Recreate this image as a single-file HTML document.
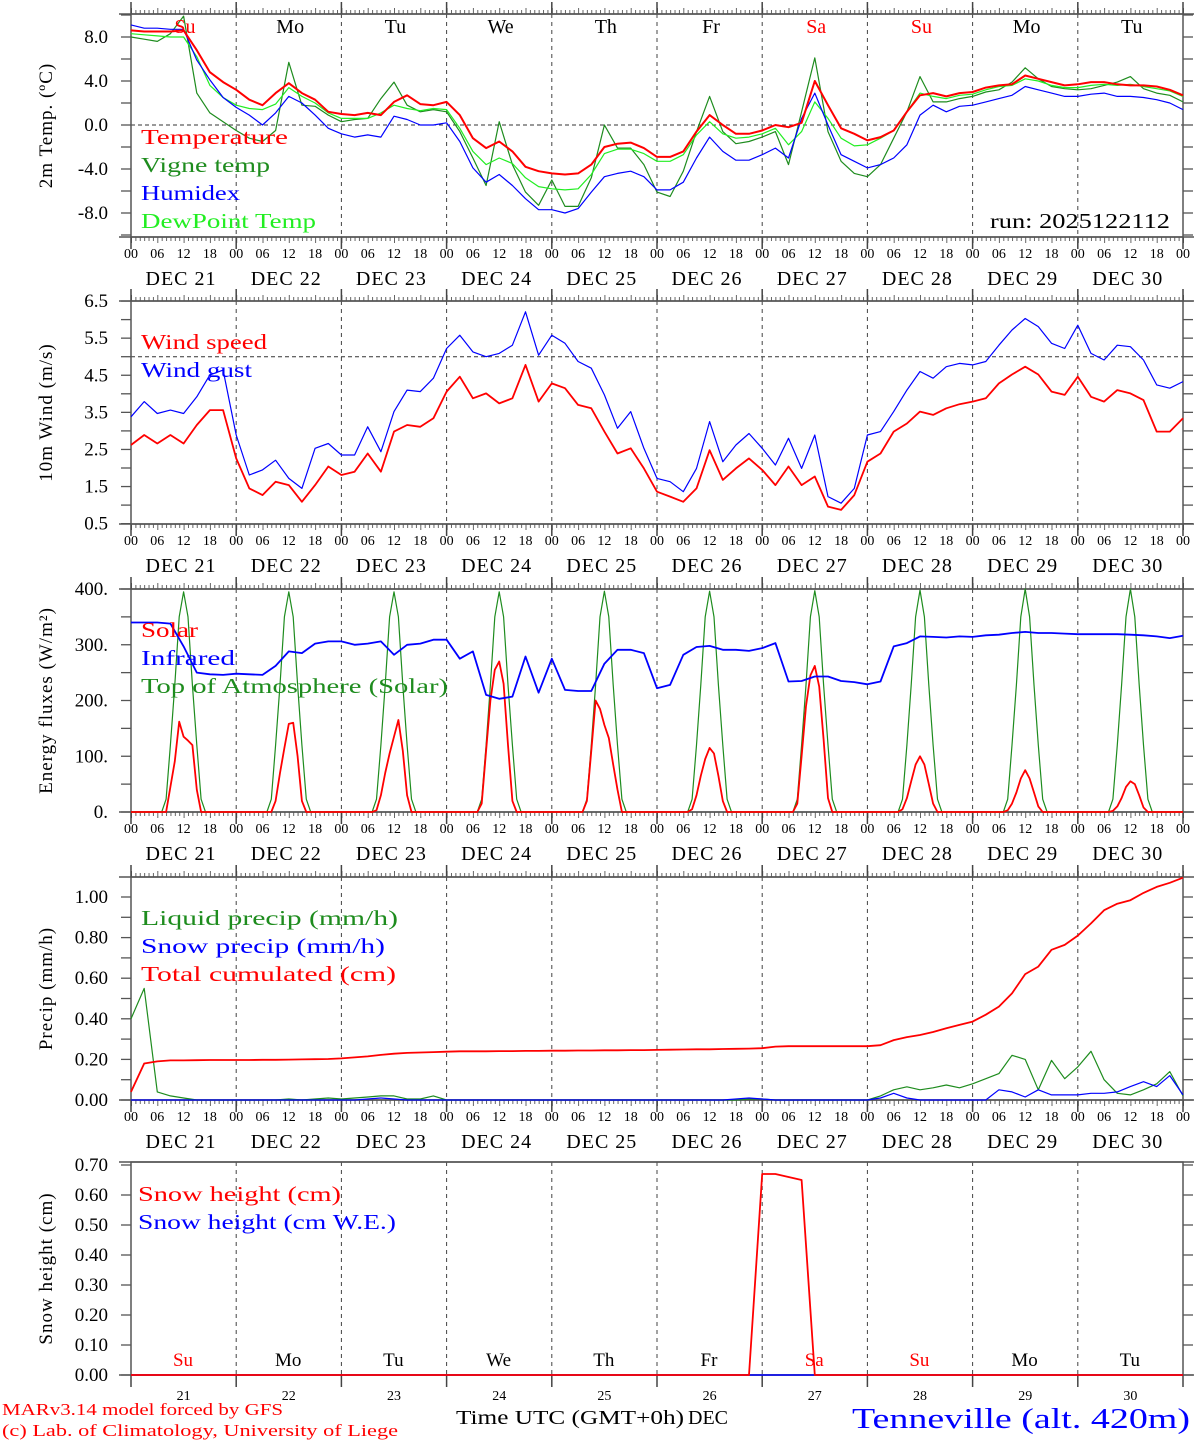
<!DOCTYPE html>
<html><head><meta charset="utf-8"><style>
html,body{margin:0;padding:0;background:#fff;}
svg{display:block;font-family:"Liberation Serif","DejaVu Serif",serif;}
</style></head><body>
<svg id="chart" width="1194" height="1440" viewBox="0 0 1194 1440" xmlns="http://www.w3.org/2000/svg">
<rect x="0" y="0" width="1194" height="1440" fill="#fff"/>
<g id="grid"></g><g id="series"></g><g id="labels"></g>
</svg>
<script>
// ---- data (3-hourly from Dec 21 00 UTC to Dec 31 00 UTC) ----
const dayNums=["21","22","23","24","25","26","27","28","29","30"];
const weekdays=["Su","Mo","Tu","We","Th","Fr","Sa","Su","Mo","Tu"];
const weekendFlags=[1,0,0,0,0,0,1,1,0,0];
const hourTicks=["00","06","12","18"];
const tempTicks=[8,4,0,-4,-8];
const windTicks=[6.5,5.5,4.5,3.5,2.5,1.5,0.5];
const fluxTicks=[400,300,200,100,0];
const precipTicks=[1.0,0.8,0.6,0.4,0.2,0.0];
const snowTicks=[0.7,0.6,0.5,0.4,0.3,0.2,0.1,0.0];

const temperature=[8.6,8.5,8.5,8.5,8.6,6.8,4.8,3.9, 3.2,2.3,1.8,2.9,3.8,2.9,2.3,1.2, 1.0,0.9,1.1,0.9,2.1,2.7,1.9,1.8, 2.1,0.9,-1.2,-2.1,-1.5,-2.4,-3.8,-4.2, -4.4,-4.5,-4.4,-3.6,-2.0,-1.7,-1.6,-2.1, -2.9,-2.9,-2.4,-0.6,0.9,0,-0.8,-0.8, -0.5,0,-0.2,0.2,4.0,1.8,-0.3,-0.8, -1.4,-1.1,-0.5,1.2,2.7,2.9,2.6,2.9, 3.0,3.4,3.6,3.7,4.5,4.2,3.9,3.6, 3.7,3.9,3.9,3.7,3.6,3.6,3.5,3.2, 2.7];
const vigneTemp=[8.0,7.8,7.6,8.3,9.9,2.9,1.1,0.3, -0.5,-1.2,-1.5,-0.5,5.7,1.8,1.7,0.9, 0.3,0.5,0.6,2.4,3.9,1.8,1.2,1.4, 1.2,-0.6,-3.0,-5.5,0.3,-3.6,-6.1,-7.3, -5.0,-7.4,-7.4,-4.8,0,-2.1,-2.1,-3.6, -6.1,-6.5,-4.2,-0.6,2.6,-0.6,-1.7,-1.5, -1.1,-0.6,-3.6,1.2,6.1,-0.6,-3.3,-4.4, -4.7,-3.6,-1.2,1.2,4.4,2.1,2.1,2.4, 2.6,3.0,3.2,3.9,5.2,4.2,3.5,3.3, 3.2,3.3,3.6,3.9,4.4,3.3,2.9,2.7, 2.1];
const humidex=[9.1,8.8,8.8,8.7,8.7,5.9,4.1,2.5, 1.6,0.9,0,1.1,2.6,2.0,0.9,-0.3, -0.8,-1.1,-0.9,-1.1,0.8,0.5,0,0, 0.2,-1.5,-3.9,-5.2,-4.5,-5.5,-6.7,-7.7, -7.7,-8.0,-7.6,-6.1,-4.7,-4.4,-4.2,-4.7, -5.9,-5.9,-5.2,-3.0,-1.1,-2.4,-3.2,-3.2, -2.7,-2.1,-3.0,0.6,2.9,0,-2.7,-3.3, -3.9,-3.6,-3.0,-1.8,0.9,1.8,1.2,1.7, 1.8,2.1,2.4,2.7,3.5,3.2,2.9,2.6, 2.6,2.8,2.9,2.6,2.6,2.5,2.3,2.0, 1.4];
const dewPoint=[8.3,8.2,8.1,8.0,8.0,6.2,3.6,2.5, 1.8,1.5,1.4,1.9,3.4,2.6,2.0,1.1, 0.6,0.6,0.6,1.1,1.8,1.5,1.3,1.5, 1.4,-0.3,-2.4,-3.6,-3.0,-3.5,-4.8,-5.6, -5.8,-5.9,-5.8,-4.5,-2.6,-2.2,-2.2,-2.6, -3.3,-3.3,-2.7,-0.9,0.3,-0.8,-1.2,-1.1, -0.8,-0.3,-1.8,-0.6,2.1,0.6,-1.2,-1.9, -1.8,-1.2,-0.5,1.2,2.9,2.6,2.4,2.7, 2.8,3.2,3.5,3.6,4.2,4.0,3.6,3.4, 3.4,3.6,3.7,3.6,3.7,3.5,3.3,3.1, 2.6];

const windSpeed=[2.62,2.89,2.66,2.89,2.66,3.16,3.56,3.56, 2.26,1.45,1.27,1.63,1.54,1.09,1.54,2.04, 1.81,1.9,2.39,1.9,2.98,3.16,3.11,3.34, 4.06,4.46,3.88,4.01,3.74,3.88,4.78,3.79, 4.28,4.15,3.7,3.61,2.98,2.39,2.53,1.99, 1.36,1.23,1.09,1.45,2.48,1.68,1.99,2.26, 1.95,1.54,2.04,1.54,1.77,0.96,0.87,1.27, 2.17,2.39,2.98,3.2,3.52,3.43,3.61,3.72, 3.79,3.88,4.28,4.52,4.73,4.52,4.06,3.97, 4.46,3.92,3.79,4.1,4.01,3.83,2.98,2.98, 3.34];
const windGust=[3.38,3.79,3.47,3.56,3.47,3.92,4.51,4.64, 2.89,1.81,1.95,2.21,1.72,1.45,2.53,2.66, 2.35,2.35,3.11,2.44,3.52,4.1,4.06,4.42, 5.22,5.58,5.13,5.0,5.09,5.31,6.21,5.04, 5.58,5.36,4.87,4.69,3.97,3.07,3.52,2.53, 1.72,1.63,1.36,1.99,3.25,2.17,2.62,2.93, 2.53,2.08,2.8,1.99,2.89,1.23,1.05,1.45, 2.89,2.98,3.52,4.1,4.6,4.42,4.73,4.82, 4.78,4.87,5.31,5.72,6.03,5.81,5.36,5.22, 5.85,5.09,4.91,5.31,5.27,4.91,4.24,4.15, 4.33];

const infrared=[340,340,340,338,297,250,247,246, 248,247,246,262,288,285,302,306, 306,300,302,306,282,300,302,309, 309,275,288,210,203,207,279,214, 275,219,217,217,266,291,291,285, 222,228,282,296,298,291,291,289, 294,303,234,235,243,243,235,233, 229,234,297,303,315,314,313,315, 314,317,318,321,323,321,321,320, 319,319,319,319,318,317,315,312, 316];
// hourly daylight rows, hours 07..17 for each day
const solarHours=[7,8,9,10,11,12,13,14,15,16,17];
const solarDaily=[
 [0,0,45,91,162,135,128,120,40,0,0],
 [0,0,20,70,115,158,160,100,20,0,0],
 [0,3,30,70,105,135,165,110,30,0,0],
 [0,15,110,200,255,270,230,120,20,0,0],
 [0,20,110,200,185,156,133,85,40,0,0],
 [0,5,30,65,95,115,105,65,20,0,0],
 [0,15,100,190,245,262,225,130,25,0,0],
 [0,5,25,55,85,100,85,50,15,0,0],
 [0,3,15,35,60,75,60,35,10,0,0],
 [0,2,10,25,45,55,50,30,8,0,0]];
const toaDaily=[
 [0,23,120,228,350,395,350,228,120,23,0],
 [0,23,120,228,350,395,350,228,120,23,0],
 [0,23,120,228,350,395,350,228,120,23,0],
 [0,23,120,228,350,395,350,228,120,23,0],
 [0,23,120,228,350,396,350,228,120,23,0],
 [0,23,120,228,350,396,350,228,120,23,0],
 [0,23,120,228,350,397,350,228,120,23,0],
 [0,23,120,228,350,398,350,228,120,23,0],
 [0,23,120,228,350,400,350,228,120,23,0],
 [0,23,120,228,350,400,350,228,120,23,0]];

const liquidPrecip=[0.40,0.55,0.04,0.02,0.01,0,0,0, 0,0,0,0,0.005,0,0.005,0.01, 0.005,0.01,0.015,0.02,0.02,0.005,0.005,0.02, 0,0,0,0,0,0,0,0, 0,0,0,0,0,0,0,0, 0,0,0,0,0,0,0,0.005, 0.005,0,0,0,0,0,0,0, 0,0.02,0.05,0.065,0.05,0.06,0.074,0.06, 0.08,0.105,0.13,0.22,0.2,0.05,0.195,0.105, 0.163,0.24,0.1,0.033,0.025,0.05,0.08,0.14, 0.02];
const snowPrecip=[0,0,0,0,0,0,0,0, 0,0,0,0,0,0,0,0, 0,0,0.005,0.01,0.005,0,0,0, 0,0,0,0,0,0,0,0, 0,0,0,0,0,0,0,0, 0,0,0,0,0,0,0.005,0.01, 0.005,0,0,0,0,0,0,0, 0,0.01,0.033,0.01,0,0,0,0, 0,0,0.05,0.04,0.015,0.05,0.025,0.025, 0.025,0.033,0.033,0.04,0.066,0.09,0.066,0.12, 0.025];
const totalCumul=[0.04,0.18,0.19,0.195,0.195,0.196,0.197,0.197, 0.197,0.197,0.198,0.198,0.199,0.2,0.201,0.202, 0.205,0.21,0.215,0.222,0.228,0.232,0.234,0.236, 0.238,0.24,0.24,0.24,0.241,0.241,0.242,0.242, 0.243,0.243,0.244,0.244,0.245,0.245,0.246,0.246, 0.247,0.248,0.249,0.25,0.25,0.251,0.252,0.253, 0.255,0.263,0.265,0.265,0.265,0.265,0.265,0.265, 0.265,0.27,0.295,0.31,0.32,0.335,0.353,0.37, 0.386,0.42,0.46,0.525,0.62,0.657,0.74,0.764, 0.81,0.87,0.935,0.967,0.984,1.02,1.05,1.07, 1.095];

const snowHeight=[0,0,0,0,0,0,0,0, 0,0,0,0,0,0,0,0, 0,0,0,0,0,0,0,0, 0,0,0,0,0,0,0,0, 0,0,0,0,0,0,0,0, 0,0,0,0,0,0,0,0, 0.67,0.67,0.66,0.65,0,0,0,0, 0,0,0,0,0,0,0,0, 0,0,0,0,0,0,0,0, 0,0,0,0,0,0,0,0, 0];
const snowWE=[0,0,0,0,0,0,0,0, 0,0,0,0,0,0,0,0, 0,0,0,0,0,0,0,0, 0,0,0,0,0,0,0,0, 0,0,0,0,0,0,0,0, 0,0,0,0,0,0,0,0, 0,0,0,0,0,0,0,0, 0,0,0,0,0,0,0,0, 0,0,0,0,0,0,0,0, 0,0,0,0,0,0,0,0, 0];

// ---- geometry ----
const NS="http://www.w3.org/2000/svg";
const X0=131, XW=1052;
function xh(h){return X0+h*XW/240;}
const panels=[
 {name:"temp",top:14,bot:237,y:v=>125-v*11,ticks:tempTicks,fmt:v=>v.toFixed(1),minor:2,min:-10.2,max:10.1,title:"2m Temp. (ºC)",hl:0},
 {name:"wind",top:301,bot:524,y:v=>356.7-(v-5)*37.1,ticks:windTicks,fmt:v=>v.toFixed(1),minor:0.5,min:0.5,max:6.5,title:"10m Wind (m/s)",hl:5},
 {name:"flux",top:589,bot:812,y:v=>812-v*0.5575,ticks:fluxTicks,fmt:v=>v.toFixed(0)+".",minor:50,min:0,max:400,title:"Energy fluxes (W/m²)"},
 {name:"precip",top:877,bot:1100,y:v=>1100-v*203,ticks:precipTicks,fmt:v=>v.toFixed(2),minor:0.1,min:0,max:1.09,title:"Precip (mm/h)"},
 {name:"snow",top:1162,bot:1375,y:v=>1375-v*300,ticks:snowTicks,fmt:v=>v.toFixed(2),minor:0.1,min:0,max:0.7,title:"Snow height (cm)"}
];
const G=document.getElementById('grid'),S=document.getElementById('series'),L=document.getElementById('labels');
function el(tag,attrs,parent){const e=document.createElementNS(NS,tag);for(const k in attrs)e.setAttribute(k,attrs[k]);parent.appendChild(e);return e;}
function txt(s,attrs,parent){const e=el('text',attrs,parent);e.textContent=s;return e;}

panels.forEach((p,pi)=>{
  const g=el('g',{},G);
  
  
  // day dashed lines
  for(let d=1;d<10;d++){
    const ln=el('line',{x1:xh(d*24),x2:xh(d*24),y1:p.top,y2:p.bot,stroke:'#444','stroke-width':1,'stroke-dasharray':'4,4'},g);
    
    
  }
  if(p.hl!==undefined){
    const hl=el('line',{x1:X0,x2:X0+XW,y1:p.y(p.hl),y2:p.y(p.hl),stroke:'#333','stroke-width':1,'stroke-dasharray':'4,3'},g);
    
    
  }
  // x ticks
  if(pi<4){
    for(let h=0;h<=240;h++){
      const len=(h%6===0)?6:4, x=xh(h)+0.5;
      el('line',{x1:x,x2:x,y1:p.top-len,y2:p.top,stroke:'#666','stroke-width':1},g);
      el('line',{x1:x,x2:x,y1:p.bot,y2:p.bot+len,stroke:'#666','stroke-width':1},g);
    }
    for(let d=0;d<=10;d++){
      el('line',{x1:xh(d*24),x2:xh(d*24),y1:p.top-12,y2:p.top,stroke:'#444','stroke-width':1.5},g);
      el('line',{x1:xh(d*24),x2:xh(d*24),y1:p.bot,y2:p.bot+12,stroke:'#444','stroke-width':1.5},g);
    }
  } else {
    for(let d=0;d<=10;d++){
      el('line',{x1:xh(d*24),x2:xh(d*24),y1:p.bot,y2:p.bot+12,stroke:'#444','stroke-width':1.5},g);
    }
  }
  // y ticks
  for(let v=p.min-1e-9;v<=p.max+1e-9;v+=p.minor/ (pi===0?1:1)){}
  const start=Math.ceil((p.min-1e-6)/p.minor)*p.minor;
  for(let v=start;v<=p.max+1e-6;v+=p.minor){
    const yy=p.y(v);
    el('line',{x1:X0-10,x2:X0,y1:yy,y2:yy,stroke:'#555','stroke-width':1.3},g);
    el('line',{x1:X0+XW,x2:X0+XW+10,y1:yy,y2:yy,stroke:'#555','stroke-width':1.3},g);
  }
  // box
  const box=el('rect',{x:X0,y:p.top,width:XW,height:p.bot-p.top,fill:'none',stroke:'#555','stroke-width':1.5},g);
  
  
  el('line',{x1:X0-12,x2:X0+XW+12,y1:p.top,y2:p.top,stroke:'#555','stroke-width':1.5},g);
  el('line',{x1:X0-12,x2:X0+XW+12,y1:p.bot,y2:p.bot,stroke:'#555','stroke-width':1.5},g);
  // y labels
  p.ticks.forEach(v=>{
    const t=txt(p.fmt(v),{x:108,y:p.y(v)+6,'text-anchor':'end','font-size':19,fill:'#000'},L);
    
    
  });
  // y title
  const cy=(p.top+p.bot)/2;
  const yt=txt(p.title,{x:0,y:0,transform:`translate(52,${cy}) rotate(-90)`,'text-anchor':'middle','font-size':19,fill:'#000','letter-spacing':'1'},L);
  
  
  // x labels
  if(pi<4){
    for(let d=0;d<=10;d++){
      hourTicks.forEach((s,k)=>{
        if(d===10&&k>0)return;
        const t=txt(s,{x:xh(d*24+k*6),y:p.bot+21,'text-anchor':'middle','font-size':14,fill:'#000'},L);
        
        
      });
    }
    dayNums.forEach((s,d)=>{
      const t=txt('DEC '+s,{x:xh(d*24)+50,y:p.bot+48,'text-anchor':'middle','font-size':20,fill:'#000','letter-spacing':'1'},L);
      
      
    });
  } else {
    dayNums.forEach((s,d)=>{
      const t=txt(s,{x:xh(d*24+12),y:p.bot+25,'text-anchor':'middle','font-size':14,fill:'#000'},L);
      
      
    });
  }
});

// weekday labels
weekdays.forEach((w,d)=>{
  const c=weekendFlags[d]?'#ff0000':'#000';
  const a=txt(w,{x:xh(d*24)+54,y:33,'text-anchor':'middle','font-size':20,fill:c},L);
  
  
  const b=txt(w,{x:xh(d*24)+52,y:1366,'text-anchor':'middle','font-size':19,fill:c},L);
  
  
});

// series helpers
function line3h(arr,p,color,w,name){
  const pts=arr.map((v,i)=>xh(i*3).toFixed(1)+','+p.y(v).toFixed(1)).join(' ');
  const e=el('polyline',{points:pts,fill:'none',stroke:color,'stroke-width':w,'stroke-linejoin':'round'},S);
  
  
}
function lineDaily(rows,p,color,w,name){
  const pts=[];
  pts.push([0,0]);
  rows.forEach((r,d)=>{r.forEach((v,k)=>pts.push([d*24+solarHours[k],v]));});
  pts.push([240,0]);
  const s=pts.map(q=>xh(q[0]).toFixed(1)+','+p.y(q[1]).toFixed(1)).join(' ');
  const e=el('polyline',{points:s,fill:'none',stroke:color,'stroke-width':w,'stroke-linejoin':'round'},S);
  
  
}
const P=panels;
line3h(vigneTemp,P[0],'#1e8c1e',1.2,'vigne-temp-line');
line3h(dewPoint,P[0],'#22ee22',1.2,'dewpoint-line');
line3h(humidex,P[0],'#0000ff',1.2,'humidex-line');
line3h(temperature,P[0],'#ff0000',2,'temperature-line');
line3h(windGust,P[1],'#0000ff',1.2,'wind-gust-line');
line3h(windSpeed,P[1],'#ff0000',1.8,'wind-speed-line');
lineDaily(toaDaily,P[2],'#1e8c1e',1.2,'toa-solar-line');
lineDaily(solarDaily,P[2],'#ff0000',1.8,'solar-line');
line3h(infrared,P[2],'#0000ff',1.8,'infrared-line');
line3h(liquidPrecip,P[3],'#1e8c1e',1.2,'liquid-precip-line');
line3h(snowPrecip,P[3],'#0000ff',1.2,'snow-precip-line');
line3h(totalCumul,P[3],'#ff0000',1.8,'total-cumulated-line');
line3h(snowWE,P[4],'#0000ff',1.5,'snow-we-line');
line3h(snowHeight,P[4],'#ff0000',1.8,'snow-height-line');

// legends
function leg(s,x,y,len,color,name,size){
  const t=txt(s,{x:x,y:y,'font-size':size||21,fill:color,textLength:len,lengthAdjust:'spacingAndGlyphs'},L);
  
  
}
leg('Temperature',141,144,147,'#ff0000','legend-temperature');
leg('Vigne temp',141,172,129,'#1e8c1e','legend-vigne-temp');
leg('Humidex',141,200,99,'#0000ff','legend-humidex');
leg('DewPoint Temp',141,228,175,'#22ee22','legend-dewpoint');
leg('run: 2025122112',990,228,180,'#000','run-label');
leg('Wind speed',141,349,126,'#ff0000','legend-wind-speed');
leg('Wind gust',141,377,111,'#0000ff','legend-wind-gust');
leg('Solar',141,637,57,'#ff0000','legend-solar');
leg('Infrared',141,665,94,'#0000ff','legend-infrared');
leg('Top of Atmosphere (Solar)',141,693,307,'#1e8c1e','legend-toa');
leg('Liquid precip (mm/h)',141,925,257,'#1e8c1e','legend-liquid-precip');
leg('Snow precip (mm/h)',141,953,244,'#0000ff','legend-snow-precip');
leg('Total cumulated (cm)',141,981,255,'#ff0000','legend-total-cumulated');
leg('Snow height (cm)',138,1201,203,'#ff0000','legend-snow-height');
leg('Snow height (cm W.E.)',138,1229,258,'#0000ff','legend-snow-we');
leg('MARv3.14 model forced by GFS',2,1415,281,'#ff0000','model-credit',17);
leg('(c) Lab. of Climatology, University of Liege',2,1436,396,'#ff0000','lab-credit',17);
leg('Time UTC (GMT+0h)',456,1424,228,'#000','x-axis-title',20);
leg('DEC',688,1424,40,'#000','x-axis-month',20);
leg('Tenneville (alt. 420m)',852,1428,338,'#0000ff','station-title',28);
</script>
</body></html>
